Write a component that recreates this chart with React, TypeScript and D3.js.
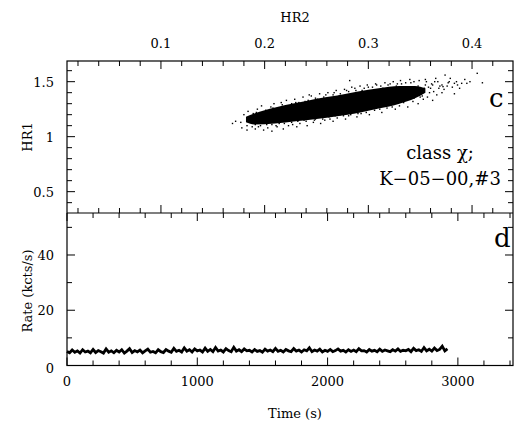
import React from "react";
import * as d3 from "d3";

// ---- axis ticks ----
const hr2Major = [0.1, 0.2, 0.3, 0.4];
const hr1Major = [0.5, 1, 1.5];
const rateMajor = [0, 20, 40];
const timeMajor = [0, 1000, 2000, 3000];

// ---- scatter (HR2, HR1): dense core envelope ----
const coreHR2 = [0.182, 0.19, 0.21, 0.23, 0.25, 0.27, 0.29, 0.31, 0.33, 0.345, 0.355];
const coreLo = [1.13, 1.11, 1.12, 1.14, 1.16, 1.185, 1.215, 1.255, 1.3, 1.35, 1.4];
const coreHi = [1.18, 1.21, 1.265, 1.305, 1.345, 1.375, 1.41, 1.44, 1.46, 1.46, 1.44];

// scattered points around the core [HR2, HR1]
const scatterPts: [number, number][] = [
  // below the core
  [0.178, 1.08], [0.183, 1.1], [0.183, 1.06], [0.188, 1.09], [0.191, 1.07], [0.191, 1.11], [0.196, 1.1], [0.199, 1.06],
  [0.203, 1.08], [0.207, 1.11], [0.207, 1.05], [0.212, 1.09], [0.214, 1.12], [0.218, 1.07], [0.223, 1.1], [0.226, 1.13],
  [0.231, 1.09], [0.234, 1.12], [0.238, 1.15], [0.241, 1.1], [0.247, 1.13], [0.249, 1.16], [0.254, 1.12], [0.258, 1.15],
  [0.262, 1.18], [0.266, 1.14], [0.27, 1.17], [0.273, 1.2], [0.278, 1.16], [0.281, 1.19], [0.286, 1.22], [0.289, 1.18],
  [0.293, 1.21], [0.297, 1.24], [0.301, 1.2], [0.306, 1.24], [0.309, 1.27], [0.313, 1.22], [0.318, 1.26], [0.322, 1.29],
  [0.326, 1.25], [0.33, 1.28], [0.334, 1.31], [0.338, 1.27], [0.343, 1.32], [0.348, 1.3], [0.353, 1.34], [0.357, 1.36],
  [0.362, 1.33], [0.366, 1.38], [0.371, 1.4],
  // above the core
  [0.18, 1.2], [0.184, 1.23], [0.189, 1.21], [0.193, 1.25], [0.197, 1.28], [0.201, 1.24], [0.206, 1.27], [0.209, 1.3],
  [0.213, 1.26], [0.217, 1.29], [0.221, 1.33], [0.226, 1.3], [0.229, 1.34], [0.233, 1.31], [0.237, 1.36], [0.242, 1.33],
  [0.245, 1.37], [0.249, 1.35], [0.253, 1.39], [0.257, 1.36], [0.261, 1.4], [0.266, 1.38], [0.269, 1.42], [0.273, 1.39],
  [0.277, 1.43], [0.281, 1.41], [0.284, 1.45], [0.288, 1.42], [0.292, 1.46], [0.296, 1.44], [0.299, 1.47], [0.304, 1.45],
  [0.307, 1.48], [0.312, 1.46], [0.316, 1.49], [0.319, 1.47], [0.324, 1.5], [0.328, 1.48], [0.331, 1.51], [0.336, 1.49],
  [0.34, 1.52], [0.344, 1.5], [0.349, 1.51], [0.282, 1.51],
  // between core and fringe
  [0.187, 1.16], [0.192, 1.22], [0.194, 1.09], [0.2, 1.21], [0.202, 1.11], [0.208, 1.26], [0.211, 1.1], [0.216, 1.31],
  [0.219, 1.12], [0.222, 1.27], [0.227, 1.11], [0.23, 1.31], [0.232, 1.14], [0.239, 1.32], [0.24, 1.14], [0.243, 1.38],
  [0.248, 1.15], [0.251, 1.34], [0.256, 1.16], [0.259, 1.38], [0.263, 1.16], [0.267, 1.4], [0.268, 1.19], [0.272, 1.37],
  [0.276, 1.19], [0.279, 1.42], [0.283, 1.2], [0.287, 1.44], [0.29, 1.21], [0.294, 1.42], [0.298, 1.22], [0.3, 1.45],
  [0.303, 1.26], [0.308, 1.47], [0.311, 1.25], [0.314, 1.44], [0.317, 1.28], [0.321, 1.48], [0.323, 1.27], [0.327, 1.46],
  [0.329, 1.31], [0.332, 1.48], [0.337, 1.34], [0.341, 1.49], [0.344, 1.35], [0.348, 1.46], [0.352, 1.37], [0.354, 1.44],
  [0.359, 1.4], [0.361, 1.48], [0.363, 1.41], [0.369, 1.46], [0.373, 1.43], [0.377, 1.49], [0.381, 1.45], [0.385, 1.5],
  [0.388, 1.44], [0.393, 1.52], [0.365, 1.53], [0.355, 1.52],
  // sparse high-HR2 tail
  [0.35, 1.36], [0.351, 1.39], [0.352, 1.425], [0.355, 1.47], [0.356, 1.5], [0.36, 1.44], [0.362, 1.47], [0.364, 1.5],
  [0.367, 1.5], [0.371, 1.47], [0.372, 1.455], [0.374, 1.56], [0.379, 1.53], [0.383, 1.485], [0.383, 1.39], [0.39, 1.485],
  [0.395, 1.485], [0.405, 1.576], [0.358, 1.45], [0.368, 1.44], [0.376, 1.46], [0.386, 1.47], [0.398, 1.5], [0.41, 1.49],
  [0.378, 1.5], [0.342, 1.4], [0.347, 1.44], [0.338, 1.42], [0.333, 1.38],
  // low-HR2 tip
  [0.169, 1.12], [0.172, 1.14], [0.177, 1.13],
];

// ---- light curve: rate (kcts/s) every 20 s ----
const lcStep = 20;
const lcRate = [
  5.1, 4.6, 5.6, 4.8, 5.3, 4.5, 5.7, 4.9, 5.2, 4.6, 5.8, 4.7, 5.4, 5.0, 4.5, 6.0, 4.8, 5.3, 4.6, 5.5,
  4.9, 5.7, 4.5, 5.2, 6.1, 4.7, 5.4, 4.9, 5.6, 4.6, 5.3, 5.9, 4.8, 5.1, 4.6, 5.7, 5.0, 4.7, 5.8, 5.2,
  4.8, 6.2, 5.1, 5.5, 4.9, 6.4, 5.2, 5.7, 4.9, 6.0, 5.3, 5.6, 4.9, 6.3, 5.1, 5.8, 5.0, 6.5, 5.2, 5.6,
  4.9, 6.1, 5.4, 5.0, 6.6, 5.2, 5.7, 5.0, 6.0, 5.3, 5.5, 4.9, 5.8, 5.1, 5.4, 4.8, 5.9, 5.2, 5.6, 5.0,
  6.2, 5.1, 5.5, 4.9, 5.8, 5.3, 5.0, 6.1, 5.2, 5.6, 4.9, 5.7, 5.3, 6.4, 5.0, 5.6, 5.2, 5.9, 4.9, 5.5,
  5.1, 5.8, 5.0, 5.4, 6.0, 5.2, 5.5, 4.9, 5.7, 5.1, 5.6, 5.0, 6.1, 5.3, 5.4, 4.9, 5.8, 5.2, 5.5, 5.0,
  5.9, 5.1, 5.6, 5.3, 5.0, 5.7, 5.2, 6.0, 5.1, 5.5, 5.3, 5.8, 5.0, 6.2, 5.4, 5.7, 5.1, 6.5, 5.3, 5.9,
  5.2, 6.3, 5.4, 5.8, 7.0, 5.3, 6.0,
];

const W = 514;
const H = 428;
const L = 67;
const R = 513;
const T = 61;
const M = 213;
const B = 365.5;
const FONT = "'DejaVu Serif', serif";

export default function App() {
  const x2 = d3.scaleLinear().domain([0.0094, 0.4395]).range([L, R]);
  const y1 = d3.scaleLinear().domain([0.306, 1.688]).range([M, T]);
  const xt = d3.scaleLinear().domain([0, 3423]).range([L, R]);
  const yr = d3.scaleLinear().domain([0, 55.2]).range([B, M]);

  const core = coreHR2.map((h, i) => ({ h, lo: coreLo[i], hi: coreHi[i] }));
  const coreArea = d3
    .area<any>()
    .x((d) => x2(d.h))
    .y0((d) => y1(d.lo))
    .y1((d) => y1(d.hi))
    .curve(d3.curveMonotoneX)(core) as string;

  const lcLine = d3
    .line<number>()
    .x((_, i) => xt(i * lcStep))
    .y((d) => yr(d))(lcRate) as string;

  const hr2Minor = d3.range(0.02, 0.44, 0.02).filter((v) => !hr2Major.some((m) => Math.abs(m - v) < 1e-6));
  const hr1Minor = d3.range(0.4, 1.7, 0.1).filter((v) => !hr1Major.some((m) => Math.abs(m - v) < 1e-6));
  const rateMinor = [10, 30, 50];
  const timeMinor = d3.range(200, 3423, 200).filter((v) => v % 1000 !== 0);

  const tk = { stroke: "#000", strokeWidth: 1 };
  const maj = 8;
  const min = 5;

  return (
    <svg width={W} height={H} style={{ position: "absolute", left: 0, top: 0, background: "#fff" }}>
      <rect x={0} y={0} width={W} height={H} fill="#fff" />
      {/* scatter */}
      <path d={coreArea} fill="#000" />
      {scatterPts.map(([h, v], i) => (
        <rect key={"s" + i} x={x2(h) - 0.7} y={y1(v) - 0.7} width={1.4} height={1.4} fill="#000" />
      ))}
      {/* light curve */}
      <path d={lcLine} fill="none" stroke="#000" strokeWidth={2.8} strokeLinejoin="miter" />

      {/* frames */}
      <rect x={L} y={T} width={R - L} height={B - T} fill="none" stroke="#000" strokeWidth={1.2} />
      <line x1={L} x2={R} y1={M} y2={M} stroke="#000" strokeWidth={1.2} />

      {/* HR2 ticks: top edge (down) and middle edge (up) */}
      {hr2Major.map((v) => (
        <g key={"h2M" + v}>
          <line x1={x2(v)} x2={x2(v)} y1={T} y2={T + maj} {...tk} />
          <line x1={x2(v)} x2={x2(v)} y1={M} y2={M - maj} {...tk} />
        </g>
      ))}
      {hr2Minor.map((v) => (
        <g key={"h2m" + v}>
          <line x1={x2(v)} x2={x2(v)} y1={T} y2={T + min} {...tk} />
          <line x1={x2(v)} x2={x2(v)} y1={M} y2={M - min} {...tk} />
        </g>
      ))}
      {/* HR1 ticks */}
      {hr1Major.map((v) => (
        <g key={"h1M" + v}>
          <line x1={L} x2={L + maj} y1={y1(v)} y2={y1(v)} {...tk} />
          <line x1={R} x2={R - maj} y1={y1(v)} y2={y1(v)} {...tk} />
        </g>
      ))}
      {hr1Minor.map((v) => (
        <g key={"h1m" + v}>
          <line x1={L} x2={L + min} y1={y1(v)} y2={y1(v)} {...tk} />
          <line x1={R} x2={R - min} y1={y1(v)} y2={y1(v)} {...tk} />
        </g>
      ))}
      {/* Time ticks: bottom (up) and middle (down) */}
      {timeMajor.map((v) => (
        <g key={"tM" + v}>
          <line x1={xt(v)} x2={xt(v)} y1={B} y2={B - maj} {...tk} />
          <line x1={xt(v)} x2={xt(v)} y1={M} y2={M + maj} {...tk} />
        </g>
      ))}
      {timeMinor.map((v) => (
        <g key={"tm" + v}>
          <line x1={xt(v)} x2={xt(v)} y1={B} y2={B - min} {...tk} />
          <line x1={xt(v)} x2={xt(v)} y1={M} y2={M + min} {...tk} />
        </g>
      ))}
      {/* Rate ticks */}
      {rateMajor.map((v) => (
        <g key={"rM" + v}>
          <line x1={L} x2={L + maj} y1={yr(v)} y2={yr(v)} {...tk} />
          <line x1={R} x2={R - maj} y1={yr(v)} y2={yr(v)} {...tk} />
        </g>
      ))}
      {rateMinor.map((v) => (
        <g key={"rm" + v}>
          <line x1={L} x2={L + min} y1={yr(v)} y2={yr(v)} {...tk} />
          <line x1={R} x2={R - min} y1={yr(v)} y2={yr(v)} {...tk} />
        </g>
      ))}

      {/* tick labels */}
      <g fontFamily={FONT} fontSize={13} fill="#000">
        {hr2Major.map((v) => (
          <text key={"l2" + v} x={x2(v)} y={48} textAnchor="middle">
            {String(v)}
          </text>
        ))}
        {hr1Major.map((v) => (
          <text key={"l1" + v} x={54} y={y1(v) + 5} textAnchor="end">
            {String(v)}
          </text>
        ))}
        {rateMajor.map((v) => (
          <text key={"lr" + v} x={54} y={yr(v) + 5 + (v === 0 ? 2 : 0)} textAnchor="end">
            {String(v)}
          </text>
        ))}
        {timeMajor.map((v) => (
          <text key={"lt" + v} x={xt(v)} y={386} textAnchor="middle">
            {String(v)}
          </text>
        ))}
      </g>

      {/* axis titles */}
      <g fontFamily={FONT} fontSize={13} fill="#000">
        <text x={295} y={22} textAnchor="middle">HR2</text>
        <text x={295} y={418} textAnchor="middle">Time (s)</text>
        <text transform={`translate(32,137) rotate(-90)`} textAnchor="middle">HR1</text>
        <text transform={`translate(32,291) rotate(-90)`} textAnchor="middle">Rate (kcts/s)</text>
      </g>

      {/* annotations */}
      <g fontFamily={FONT} fill="#000">
        <text x={440} y={159} fontSize={18} textAnchor="middle">class χ;</text>
        <text x={440} y={185} fontSize={18} textAnchor="middle">K−05−00,#3</text>
        <text x={489} y={107} fontSize={26}>c</text>
        <text x={494} y={247} fontSize={26}>d</text>
      </g>
    </svg>
  );
}
